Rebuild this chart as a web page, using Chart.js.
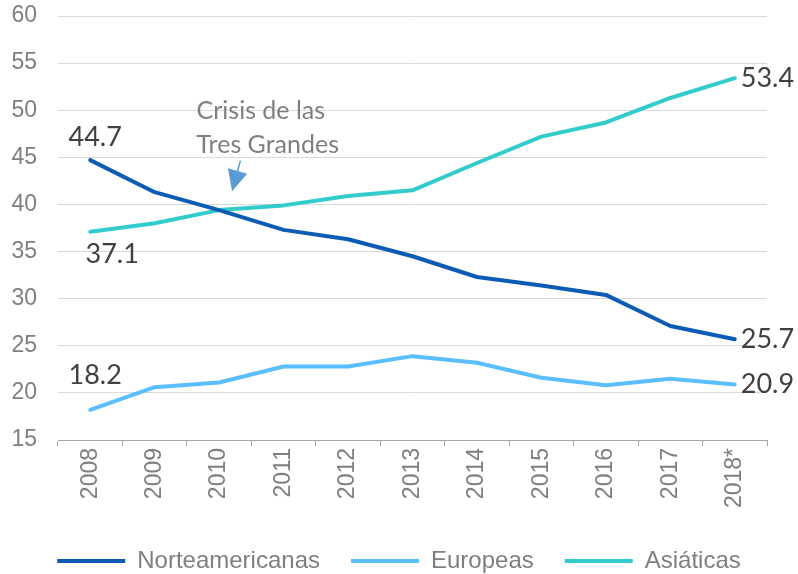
<!DOCTYPE html>
<html>
<head>
<meta charset="utf-8">
<script src="https://cdn.jsdelivr.net/npm/chart.js@4/dist/chart.umd.min.js"></script>
<style>
  html, body { margin: 0; padding: 0; background: #fff; }
</style>
</head>
<body>
<canvas id="grafico" width="798" height="574"></canvas>
<script>
// datos
const anos = ["2008", "2009", "2010", "2011", "2012", "2013", "2014", "2015", "2016", "2017", "2018*"];
const norteamericanas = [44.7, 41.3, 39.4, 37.3, 36.3, 34.5, 32.3, 31.4, 30.4, 27.1, 25.7];
const europeas = [18.2, 20.6, 21.1, 22.8, 22.8, 23.9, 23.2, 21.6, 20.8, 21.5, 20.9];
const asiaticas = [37.1, 38.0, 39.4, 39.9, 40.9, 41.5, 44.4, 47.2, 48.7, 51.3, 53.4];
const ejeY = { min: 15, max: 60, paso: 5 };
const nota = ["Crisis de las", "Tres Grandes"];

const gris = "#7f7f7f";

// etiquetas de inicio / fin y la nota con flecha
const rotulos = {
  id: "rotulos",
  beforeInit(chart) {
    // altura fija de la leyenda
    const fitOrig = chart.legend.fit;
    chart.legend.fit = function () {
      fitOrig.call(this);
      this.height = 56;
    };
  },
  afterDatasetsDraw(chart) {
    const ctx = chart.ctx;
    const desl = [[5, -23], [5, -35], [22, 23]];
    ctx.save();
    ctx.font = "27px Lato";
    ctx.fillStyle = "#404040";
    ctx.textBaseline = "middle";
    chart.data.datasets.forEach((ds, i) => {
      const meta = chart.getDatasetMeta(i);
      const p0 = meta.data[0];
      const pN = meta.data[meta.data.length - 1];
      ctx.textAlign = "center";
      ctx.fillText(ds.data[0].toFixed(1), p0.x + desl[i][0], p0.y + desl[i][1]);
      ctx.textAlign = "left";
      ctx.fillText(ds.data[ds.data.length - 1].toFixed(1), pN.x + 6, pN.y);
    });

    // nota "Crisis de las Tres Grandes"
    const xs = chart.scales.x, ys = chart.scales.y;
    ctx.font = "25px Lato";
    ctx.fillStyle = gris;
    ctx.textAlign = "left";
    ctx.textBaseline = "alphabetic";
    const tx = xs.getPixelForValue(1.65);
    const ty = ys.getPixelForValue(49.1);
    ctx.fillText(nota[0], tx, ty);
    ctx.fillText(nota[1], tx, ty + 34);

    // flecha
    const x1 = xs.getPixelForValue(2.33), y1 = ys.getPixelForValue(44.65);
    const x2 = xs.getPixelForValue(2.2), y2 = ys.getPixelForValue(41.4);
    const ang = Math.atan2(y2 - y1, x2 - x1);
    const largo = 21, ancho = 10;
    const bx = x2 - largo * Math.cos(ang), by = y2 - largo * Math.sin(ang);
    ctx.strokeStyle = "#5b9bd5";
    ctx.fillStyle = "#5b9bd5";
    ctx.lineWidth = 1.5;
    ctx.beginPath();
    ctx.moveTo(x1, y1);
    ctx.lineTo(bx, by);
    ctx.stroke();
    ctx.beginPath();
    ctx.moveTo(x2, y2);
    ctx.lineTo(bx + ancho * Math.sin(ang), by - ancho * Math.cos(ang));
    ctx.lineTo(bx - ancho * Math.sin(ang), by + ancho * Math.cos(ang));
    ctx.closePath();
    ctx.fill();
    ctx.restore();
  }
};

const serie = (label, data, color) => ({
  label: label,
  data: data,
  borderColor: color,
  backgroundColor: color,
  borderWidth: 4,
  tension: 0,
  pointRadius: 0,
  borderJoinStyle: "round",
  borderCapStyle: "round",
  yAxisID: "y"
});

new Chart(document.getElementById("grafico"), {
  type: "line",
  data: {
    labels: anos,
    datasets: [
      serie("Norteamericanas", norteamericanas, "#0c5cb5"),
      serie("Europeas", europeas, "#5bbfff"),
      serie("Asiáticas", asiaticas, "#33cccc")
    ]
  },
  options: {
    responsive: false,
    animation: false,
    layout: { padding: { top: 16, left: 0, right: 0, bottom: 0 } },
    plugins: {
      tooltip: { enabled: false },
      legend: {
        position: "bottom",
        labels: {
          usePointStyle: true,
          pointStyleWidth: 68,
          pointStyle: "line",
          padding: 31,
          color: gris,
          font: { family: "'Liberation Sans', Arial", size: 24 }
        }
      }
    },
    scales: {
      x: {
        offset: true,
        grid: {
          offset: true,
          drawOnChartArea: false,
          drawTicks: true,
          tickLength: 6,
          color: "#a6a6a6"
        },
        border: { display: true, color: "#a6a6a6", width: 1 },
        ticks: {
          minRotation: 90,
          maxRotation: 90,
          padding: 2,
          color: gris,
          font: { family: "'Liberation Sans', Arial", size: 23 }
        },
        afterFit(s) { s.height = 78; }
      },
      y: {
        min: ejeY.min,
        max: ejeY.max,
        ticks: {
          stepSize: ejeY.paso,
          padding: 21,
          color: gris,
          font: { family: "'Liberation Sans', Arial", size: 23 }
        },
        grid: { color: "#d9d9d9", lineWidth: 1, drawTicks: false },
        border: { display: false },
        afterFit(s) { s.width = 58; s.paddingTop = 0; s.paddingBottom = 0; }
      },
      derecha: {
        position: "right",
        display: true,
        grid: { display: false },
        ticks: { display: false },
        border: { display: false },
        afterFit(s) { s.width = 31; s.paddingTop = 0; s.paddingBottom = 0; }
      }
    }
  },
  plugins: [rotulos]
});
</script>
</body>
</html>
